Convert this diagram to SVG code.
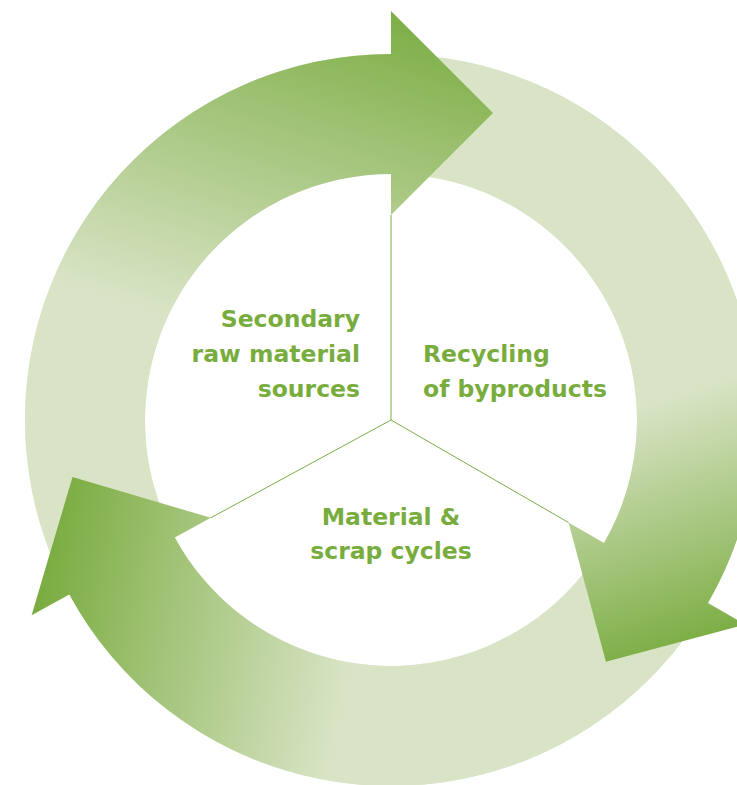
<svg xmlns="http://www.w3.org/2000/svg" width="737" height="785" viewBox="0 0 737 785">
  <style>
    .ring { fill: #d9e4c6; }
    .divider { stroke: #7bae47; stroke-width: 1; fill: none; }
    .label { font-family: "DejaVu Sans", "Liberation Sans", sans-serif; font-size: 23.5px; font-weight: 600; fill: #78ad3e; stroke: #ffffff; stroke-width: 0.5px; paint-order: stroke; }
  </style>
  <defs>
    <linearGradient id="gTop" gradientUnits="userSpaceOnUse" x1="100" y1="295" x2="208" y2="-48">
      <stop offset="0" stop-color="#d9e4c6"/>
      <stop offset="1" stop-color="#7dae45"/>
    </linearGradient>
    <linearGradient id="gRight" gradientUnits="userSpaceOnUse" x1="690" y1="390" x2="764" y2="618">
      <stop offset="0" stop-color="#d9e4c6"/>
      <stop offset="1" stop-color="#7dae45"/>
    </linearGradient>
    <linearGradient id="gLeft" gradientUnits="userSpaceOnUse" x1="327" y1="784" x2="10.5" y2="720">
      <stop offset="0" stop-color="#d9e4c6"/>
      <stop offset="1" stop-color="#7aac40"/>
    </linearGradient>
  </defs>

  <g id="ring">
    <path class="ring" fill-rule="evenodd" d="M 25 420 A 366 366 0 1 1 757 420 A 366 366 0 1 1 25 420 Z M 145 420 A 246 246 0 1 0 637 420 A 246 246 0 1 0 145 420 Z"/>
  </g>

  <g id="arrow-top">
    <path fill="url(#gTop)" d="M 26.4 451.9 A 366 366 0 0 1 391 54 L 391 11 L 493 113 L 391 215 L 391 174 A 246 246 0 0 0 145.9 441.4 Z"/>
  </g>
  <g id="arrow-right">
    <path fill="url(#gRight)" d="M 545.7 88.3 A 366 366 0 0 1 708 603 L 745.2 624.5 L 605.9 661.8 L 568.5 522.5 L 604 543 A 246 246 0 0 0 495 197 Z"/>
  </g>
  <g id="arrow-left">
    <path fill="url(#gLeft)" d="M 593 725.2 A 366 366 0 0 1 69.35 594.6 L 31.6 615.2 L 72.5 476.9 L 210.8 517.8 L 174.8 537.4 A 246 246 0 0 0 526.8 625.1 Z"/>
  </g>

  <g id="connectors">
    <line class="divider" x1="391" y1="420" x2="391" y2="215"/>
    <line class="divider" x1="391" y1="420" x2="568.5" y2="522.5"/>
    <line class="divider" x1="391" y1="420" x2="210.8" y2="517.8"/>
  </g>

  <g id="node-secondary">
    <text class="label" text-anchor="end" x="360" y="327">Secondary</text>
    <text class="label" text-anchor="end" x="360" y="362">raw material</text>
    <text class="label" text-anchor="end" x="360" y="397">sources</text>
  </g>
  <g id="node-recycling">
    <text class="label" x="423" y="362">Recycling</text>
    <text class="label" x="423" y="397">of byproducts</text>
  </g>
  <g id="node-material">
    <text class="label" text-anchor="middle" x="391" y="525">Material &amp;</text>
    <text class="label" text-anchor="middle" x="391" y="559">scrap cycles</text>
  </g>
</svg>
